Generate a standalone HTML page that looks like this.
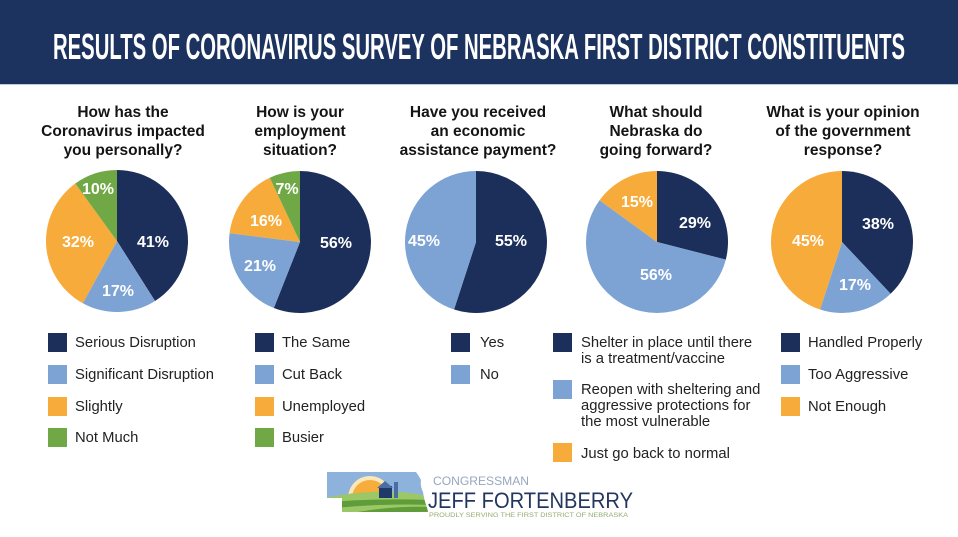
<!DOCTYPE html>
<html>
<head>
<meta charset="utf-8">
<style>
html,body{margin:0;padding:0;background:#fff;}
body{width:958px;height:537px;overflow:hidden;}
svg{display:block;}
.t{font-family:"Liberation Sans",Arial,sans-serif;font-weight:bold;font-size:15.5px;fill:#141414;text-anchor:middle;}
.p{font-family:"Liberation Sans",Arial,sans-serif;font-weight:bold;font-size:16px;fill:#fff;text-anchor:middle;}
.l{font-family:"Liberation Sans",Arial,sans-serif;font-size:14.8px;fill:#222;}
</style>
</head>
<body>
<svg width="958" height="537" viewBox="0 0 958 537" xmlns="http://www.w3.org/2000/svg">
  <!-- Header -->
  <rect x="0" y="0" width="958" height="84" fill="#1c325f"/>
  <rect x="0" y="84" width="958" height="1" fill="#b9cbe2"/>
  <text x="53" y="59" textLength="852" lengthAdjust="spacingAndGlyphs" font-family="'Liberation Sans Narrow','Liberation Sans',Arial,sans-serif" font-weight="bold" font-size="36" fill="#ffffff">RESULTS OF CORONAVIRUS SURVEY OF NEBRASKA FIRST DISTRICT CONSTITUENTS</text>

  <!-- Titles -->
  <text class="t" x="123" y="117">How has the</text>
  <text class="t" x="123" y="136">Coronavirus impacted</text>
  <text class="t" x="123" y="155">you personally?</text>

  <text class="t" x="300" y="117">How is your</text>
  <text class="t" x="300" y="136">employment</text>
  <text class="t" x="300" y="155">situation?</text>

  <text class="t" x="478" y="117">Have you received</text>
  <text class="t" x="478" y="136">an economic</text>
  <text class="t" x="478" y="155">assistance payment?</text>

  <text class="t" x="656" y="117">What should</text>
  <text class="t" x="656" y="136">Nebraska do</text>
  <text class="t" x="656" y="155">going forward?</text>

  <text class="t" x="843" y="117">What is your opinion</text>
  <text class="t" x="843" y="136">of the government</text>
  <text class="t" x="843" y="155">response?</text>

  <!-- Pie 1 -->
  <path d="M117,241 L117,170 A71,71 0 0 1 155.04,300.95 Z" fill="#1b2f5a"/>
  <path d="M117,241 L155.04,300.95 A71,71 0 0 1 82.79,303.22 Z" fill="#7da3d5"/>
  <path d="M117,241 L82.79,303.22 A71,71 0 0 1 75.27,183.56 Z" fill="#f6ab3a"/>
  <path d="M117,241 L75.27,183.56 A71,71 0 0 1 117,170 Z" fill="#70a845"/>
  <text class="p" x="153" y="247">41%</text>
  <text class="p" x="118" y="296">17%</text>
  <text class="p" x="78" y="247">32%</text>
  <text class="p" x="98" y="194">10%</text>

  <!-- Pie 2 -->
  <path d="M300,242 L300,171 A71,71 0 1 1 273.86,308.02 Z" fill="#1b2f5a"/>
  <path d="M300,242 L273.86,308.02 A71,71 0 0 1 229.56,233.10 Z" fill="#7da3d5"/>
  <path d="M300,242 L229.56,233.10 A71,71 0 0 1 269.77,177.76 Z" fill="#f6ab3a"/>
  <path d="M300,242 L269.77,177.76 A71,71 0 0 1 300,171 Z" fill="#70a845"/>
  <text class="p" x="336" y="248">56%</text>
  <text class="p" x="260" y="271">21%</text>
  <text class="p" x="266" y="226">16%</text>
  <text class="p" x="287" y="194">7%</text>

  <!-- Pie 3 -->
  <path d="M476,242 L476,171 A71,71 0 1 1 454.06,309.53 Z" fill="#1b2f5a"/>
  <path d="M476,242 L454.06,309.53 A71,71 0 0 1 476,171 Z" fill="#7da3d5"/>
  <text class="p" x="511" y="246">55%</text>
  <text class="p" x="424" y="246">45%</text>

  <!-- Pie 4 -->
  <path d="M657,242 L657,171 A71,71 0 0 1 725.77,259.66 Z" fill="#1b2f5a"/>
  <path d="M657,242 L725.77,259.66 A71,71 0 1 1 599.56,200.27 Z" fill="#7da3d5"/>
  <path d="M657,242 L599.56,200.27 A71,71 0 0 1 657,171 Z" fill="#f6ab3a"/>
  <text class="p" x="695" y="228">29%</text>
  <text class="p" x="656" y="280">56%</text>
  <text class="p" x="637" y="207">15%</text>

  <!-- Pie 5 -->
  <path d="M842,242 L842,171 A71,71 0 0 1 890.60,293.76 Z" fill="#1b2f5a"/>
  <path d="M842,242 L890.60,293.76 A71,71 0 0 1 820.06,309.53 Z" fill="#7da3d5"/>
  <path d="M842,242 L820.06,309.53 A71,71 0 0 1 842,171 Z" fill="#f6ab3a"/>
  <text class="p" x="878" y="229">38%</text>
  <text class="p" x="855" y="290">17%</text>
  <text class="p" x="808" y="246">45%</text>

  <!-- Legend 1 -->
  <rect x="48" y="333" width="19" height="19" fill="#1b2f5a"/>
  <text class="l" x="75" y="347">Serious Disruption</text>
  <rect x="48" y="365" width="19" height="19" fill="#7da3d5"/>
  <text class="l" x="75" y="379">Significant Disruption</text>
  <rect x="48" y="397" width="19" height="19" fill="#f6ab3a"/>
  <text class="l" x="75" y="411">Slightly</text>
  <rect x="48" y="428" width="19" height="19" fill="#70a845"/>
  <text class="l" x="75" y="442">Not Much</text>

  <!-- Legend 2 -->
  <rect x="255" y="333" width="19" height="19" fill="#1b2f5a"/>
  <text class="l" x="282" y="347">The Same</text>
  <rect x="255" y="365" width="19" height="19" fill="#7da3d5"/>
  <text class="l" x="282" y="379">Cut Back</text>
  <rect x="255" y="397" width="19" height="19" fill="#f6ab3a"/>
  <text class="l" x="282" y="411">Unemployed</text>
  <rect x="255" y="428" width="19" height="19" fill="#70a845"/>
  <text class="l" x="282" y="442">Busier</text>

  <!-- Legend 3 -->
  <rect x="451" y="333" width="19" height="19" fill="#1b2f5a"/>
  <text class="l" x="480" y="347">Yes</text>
  <rect x="451" y="365" width="19" height="19" fill="#7da3d5"/>
  <text class="l" x="480" y="379">No</text>

  <!-- Legend 4 -->
  <rect x="553" y="333" width="19" height="19" fill="#1b2f5a"/>
  <text class="l" x="581" y="347">Shelter in place until there</text>
  <text class="l" x="581" y="363">is a treatment/vaccine</text>
  <rect x="553" y="380" width="19" height="19" fill="#7da3d5"/>
  <text class="l" x="581" y="394">Reopen with sheltering and</text>
  <text class="l" x="581" y="410">aggressive protections for</text>
  <text class="l" x="581" y="426">the most vulnerable</text>
  <rect x="553" y="443" width="19" height="19" fill="#f6ab3a"/>
  <text class="l" x="581" y="458">Just go back to normal</text>

  <!-- Legend 5 -->
  <rect x="781" y="333" width="19" height="19" fill="#1b2f5a"/>
  <text class="l" x="808" y="347">Handled Properly</text>
  <rect x="781" y="365" width="19" height="19" fill="#7da3d5"/>
  <text class="l" x="808" y="379">Too Aggressive</text>
  <rect x="781" y="397" width="19" height="19" fill="#f6ab3a"/>
  <text class="l" x="808" y="411">Not Enough</text>

  <!-- Logo -->
  <defs>
    <clipPath id="ne">
      <path d="M327,472 L416,472 Q419,476 421,480 Q420,486 423,492 Q424,500 427,508 L428,512 L342,512 L342,498 L327,498 Z"/>
    </clipPath>
  </defs>
  <g clip-path="url(#ne)">
    <rect x="320" y="468" width="112" height="50" fill="#8db3dd"/>
    <circle cx="370" cy="498" r="22" fill="#fbe7b8"/>
    <circle cx="370" cy="498" r="18" fill="#f6ad3c"/>
    <path d="M320,499 Q360,490 400,492 Q418,493 432,498 L432,518 L320,518 Z" fill="#9cc766"/>
    <path d="M320,503 Q370,498 432,500 L432,505 Q370,503 320,510 Z" fill="#5f9c3a"/>
    <path d="M330,518 Q380,505 432,507 L432,512 Q390,511 352,518 Z" fill="#5f9c3a"/>
    <rect x="379" y="486" width="13" height="12" fill="#1f3a68"/>
    <path d="M377,488 L385,481 L393,488 Z" fill="#4a6ea3"/>
    <rect x="394" y="482" width="4" height="16" fill="#4a6ea3"/>
  </g>
  <text x="433" y="485" textLength="96" lengthAdjust="spacingAndGlyphs" font-family="'Liberation Sans',Arial,sans-serif" font-size="11.5" fill="#98a6bd">CONGRESSMAN</text>
  <text x="428" y="508" textLength="205" lengthAdjust="spacingAndGlyphs" font-family="'Liberation Sans',Arial,sans-serif" font-size="22" fill="#22365f">JEFF FORTENBERRY</text>
  <text x="429" y="517" textLength="199" lengthAdjust="spacingAndGlyphs" font-family="'Liberation Sans',Arial,sans-serif" font-size="6.8" fill="#93ad72">PROUDLY SERVING THE FIRST DISTRICT OF NEBRASKA</text>
</svg>
</body>
</html>
